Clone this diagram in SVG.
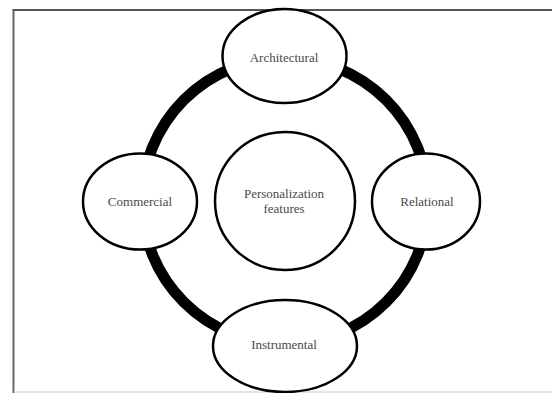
<svg xmlns="http://www.w3.org/2000/svg" width="552" height="393" viewBox="0 0 552 393">
<style>
.node{fill:#fff;stroke:#000;stroke-width:2.5}
.lbl{font-family:"Liberation Serif","Times New Roman",serif;font-size:13px;fill:#4a4a4a;text-anchor:middle}
</style>
<rect width="552" height="393" fill="#fff"/>
<g id="frame" fill="none">
<line x1="12.5" y1="10" x2="552" y2="10" stroke="#555" stroke-width="2"/>
<line x1="13.5" y1="9" x2="13.5" y2="393" stroke="#666" stroke-width="2"/>
<line x1="14" y1="392" x2="552" y2="392" stroke="#ddd" stroke-width="1.5"/>
</g>
<g id="connectors">
<circle cx="285" cy="201" r="143" fill="none" stroke="#000" stroke-width="11"/>
</g>
<g id="center">
<ellipse class="node" cx="285" cy="201" rx="70" ry="69"/>
<text class="lbl" x="284" y="198">Personalization</text>
<text class="lbl" x="284" y="213">features</text>
</g>
<g id="architectural">
<ellipse class="node" cx="284.5" cy="56" rx="62" ry="47"/>
<text class="lbl" x="284" y="62">Architectural</text>
</g>
<g id="commercial">
<ellipse class="node" cx="140" cy="201.5" rx="57" ry="48"/>
<text class="lbl" x="140" y="206">Commercial</text>
</g>
<g id="relational">
<ellipse class="node" cx="426" cy="201.5" rx="54" ry="48"/>
<text class="lbl" x="427" y="206">Relational</text>
</g>
<g id="instrumental">
<ellipse class="node" cx="285" cy="346" rx="72" ry="46"/>
<text class="lbl" x="284" y="349">Instrumental</text>
</g>
</svg>
